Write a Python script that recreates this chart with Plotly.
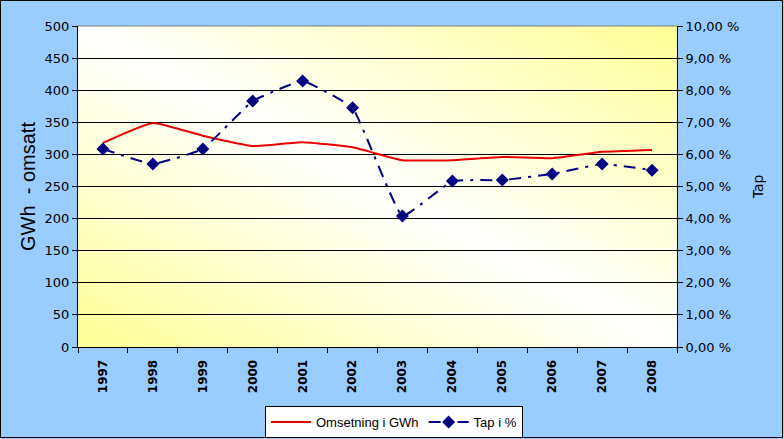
import base64, struct, zlib
import plotly.graph_objects as go

years = ["1997", "1998", "1999", "2000", "2001", "2002", "2003", "2004", "2005", "2006", "2007", "2008"]
omsetning_gwh = [318, 349, 329, 313, 319, 311, 291, 291, 296, 294, 304, 307]
tap_pct = [6.17, 5.70, 6.17, 7.66, 8.29, 7.45, 4.08, 5.17, 5.20, 5.39, 5.70, 5.51]
left_ticks = list(range(0, 501, 50))
right_ticks = list(range(0, 11))
right_ticktext = [f"{v},00 %" for v in right_ticks]

W, H = 784, 439
ML, MR, MT, MB = 78, 107, 26, 92
PW, PH = W - ML - MR, H - MT - MB


def gradient_png(w=120, h=64):
    white = (255, 255, 255)
    yellow = (255, 255, 153)
    rows = b""
    for j in range(h):
        yn = 1 - j / (h - 1)
        row = b"\x00"
        for i in range(w):
            xn = i / (w - 1)
            t = (xn + yn) / 2
            v = min(1.0, abs(2 * t - 1))
            c = [round(white[k] * (1 - v) + yellow[k] * v) for k in range(3)]
            row += bytes(c)
        rows += row

    def chunk(tag, data):
        c = struct.pack(">I", len(data)) + tag + data
        return c + struct.pack(">I", zlib.crc32(tag + data) & 0xFFFFFFFF)

    png = b"\x89PNG\r\n\x1a\n"
    png += chunk(b"IHDR", struct.pack(">IIBBBBB", w, h, 8, 2, 0, 0, 0))
    png += chunk(b"IDAT", zlib.compress(rows, 9))
    png += chunk(b"IEND", b"")
    return "data:image/png;base64," + base64.b64encode(png).decode()


fig = go.Figure()
fig.add_trace(go.Scatter(
    x=years, y=omsetning_gwh, name="Omsetning i GWh", mode="lines",
    line=dict(color="#E80000", width=2, shape="spline", smoothing=0.4),
    yaxis="y",
))
fig.add_trace(go.Scatter(
    x=years, y=tap_pct, name="Tap i %", mode="lines+markers",
    line=dict(color="#000080", width=2, dash="12px,7px,3px,7px", shape="spline", smoothing=0.3),
    marker=dict(symbol="diamond", size=10, color="#000080"),
    yaxis="y2",
))

tick_font = dict(family="DejaVu Sans", size=13, color="#000000")

fig.update_layout(
    width=W, height=H,
    margin=dict(l=ML, r=MR, t=MT, b=MB, autoexpand=False),
    paper_bgcolor="#99CCFF",
    plot_bgcolor="#FFFFFF",
    showlegend=True,
    legend=dict(
        orientation="h", x=(394 - ML) / PW, xanchor="center",
        y=-(406 - MT - PH) / PH, yanchor="top",
        bgcolor="#FFFFFF", bordercolor="#000000", borderwidth=1,
        font=dict(family="Liberation Sans", size=13, color="#000000"),
        itemwidth=40, tracegroupgap=0, valign="middle",
    ),
    xaxis=dict(
        type="category", tickson="boundaries", ticks="outside", ticklen=5,
        tickcolor="#000000", tickangle=-90, showgrid=False, automargin=False,
        showline=True, linecolor="#000000", linewidth=1, ticklabelstandoff=7,
        tickfont=dict(family="DejaVu Sans", size=12, color="#000000", weight="bold"),
        range=[-0.5, len(years) - 0.5],
    ),
    yaxis=dict(
        range=[0, 500], tickvals=left_ticks, ticks="outside", ticklen=5,
        tickcolor="#000000", showgrid=True, gridcolor="#000000", gridwidth=1,
        showline=True, linecolor="#000000", linewidth=1, zeroline=False,
        tickfont=tick_font, automargin=False,
        title=dict(text="GWh\u00a0\u00a0- omsatt", font=dict(family="Liberation Sans", size=20, color="#000000"), standoff=3),
    ),
    yaxis2=dict(
        range=[0, 10], overlaying="y", side="right",
        tickvals=right_ticks, ticktext=right_ticktext, ticks="outside", ticklen=5,
        tickcolor="#000000", showgrid=False, zeroline=False,
        showline=True, linecolor="#000000", linewidth=1, automargin=False,
        tickfont=tick_font,
        title=dict(text="Tap", font=dict(family="DejaVu Sans", size=14, color="#000000"), standoff=14),
    ),
    images=[dict(
        source=gradient_png(), xref="paper", yref="paper", x=0, y=1,
        sizex=1, sizey=1, sizing="stretch", layer="below", xanchor="left", yanchor="top",
    )],
    shapes=[
        dict(type="line", xref="paper", yref="paper", x0=0, x1=1, y0=1, y1=1,
             line=dict(color="#808080", width=1)),
        dict(type="rect", xref="paper", yref="paper",
             x0=-(ML - 0.5) / PW, x1=1 + (MR - 1.5) / PW,
             y0=-(MB - 1.5) / PH, y1=1 + (MT - 0.5) / PH,
             line=dict(color="#000000", width=1), fillcolor="rgba(0,0,0,0)", layer="above"),
    ],
)

fig.write_html(
    "out.html",
    config={"displayModeBar": False},
    post_script="document.body.style.margin='0px';document.body.style.overflow='hidden';",
)
